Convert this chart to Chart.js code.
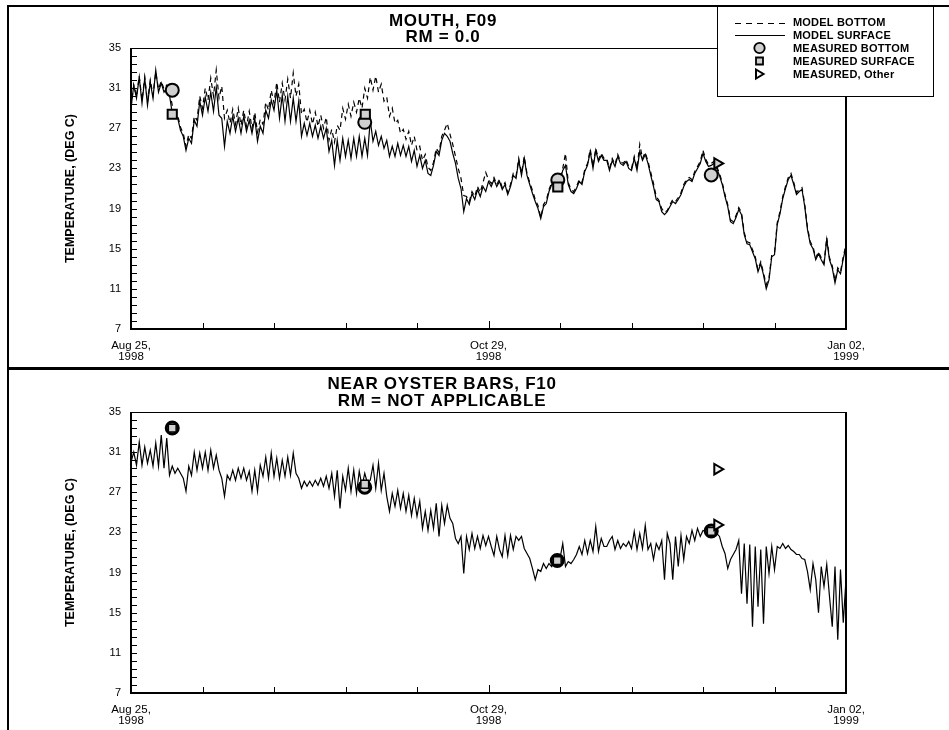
<!DOCTYPE html>
<html>
<head>
<meta charset="utf-8">
<script src="https://cdn.jsdelivr.net/npm/chart.js@4"></script>
<style>
html, body { margin: 0; padding: 0; background: #fff; }
body { width: 949px; height: 730px; position: relative; overflow: hidden; }
.rule { position: absolute; background: #000; }
canvas { position: absolute; left: 0; }
</style>
</head>
<body>
<div class="rule" style="left:7px;top:5px;width:942px;height:2px"></div>
<div class="rule" style="left:7px;top:5px;width:2px;height:725px"></div>
<div class="rule" style="left:7px;top:367px;width:942px;height:3px"></div>
<canvas id="c1" width="949" height="367" style="top:0px"></canvas>
<canvas id="c2" width="949" height="360" style="top:370px"></canvas>
<script>
// ---------------- DATA ----------------
// model series are sampled every half day starting Aug 25, 1998 (day 0)
const DAY_STEP = 0.5;

const xTickDays = [0, 65, 130];
const xTickLabels = [["Aug 25,", "1998"], ["Oct 29,", "1998"], ["Jan 02,", "1999"]];
const yTickLabels = [7, 11, 15, 19, 23, 27, 31, 35];

const yTitle = "TEMPERATURE, (DEG C)";
const topTitles = ["MOUTH, F09", "RM = 0.0"];
const bottomTitles = ["NEAR OYSTER BARS, F10", "RM = NOT APPLICABLE"];

const seriesNames = ["MODEL BOTTOM", "MODEL SURFACE", "MEASURED BOTTOM", "MEASURED SURFACE", "MEASURED, Other"];

// MOUTH, F09 - model bottom (dashed)
const topModelBottom = [
  29.1, 31.3, 30.2, 32.2, 29.8, 32.1, 29.6, 31.8, 30.3, 32.6,
  30.9, 31.7, 30.9, 31.3, 30.7, 29.3, 28.8, 28.3, 27.1, 26.5,
  25.2, 26.4, 26.0, 28.2, 27.8, 30.2, 29.0, 31.0, 29.8, 32.0,
  30.2, 32.8, 30.0, 31.2, 28.0, 28.8, 27.5, 28.9, 27.4, 29.0,
  27.3, 28.8, 27.2, 28.7, 27.0, 28.6, 26.6, 27.9, 27.4, 29.6,
  28.8, 30.8, 29.5, 31.6, 29.6, 31.5, 29.8, 31.9, 30.0, 32.5,
  30.2, 31.4, 28.4, 28.9, 27.6, 28.8, 27.4, 28.6, 27.2, 28.3,
  27.0, 28.1, 25.8, 26.9, 25.6, 27.3, 26.8, 29.0, 27.9, 29.4,
  28.2, 29.6, 28.6, 30.0, 29.0, 31.0, 30.0, 32.1, 30.8, 32.2,
  30.6, 31.4, 29.7, 30.1, 28.2, 29.0, 27.5, 27.8, 26.5, 26.9,
  25.9, 26.7, 25.3, 26.2, 24.8, 25.2, 23.8, 24.4, 23.1, 22.8,
  23.6, 25.0, 24.6, 26.2, 26.8, 27.5, 26.4, 25.4, 24.2, 23.0,
  22.0, 20.3, 20.2, 19.7, 20.7, 20.2, 21.2, 20.6, 21.6, 22.6,
  21.9, 21.5, 22.1, 21.4, 21.9, 21.1, 21.6, 20.6, 21.4, 22.5,
  22.2, 24.0, 22.5, 24.2, 22.5, 21.6, 20.8, 19.9, 19.3, 18.1,
  19.4, 19.8, 20.9, 21.6, 21.8, 21.9, 22.0, 23.0, 24.5, 21.6,
  20.9, 20.7, 21.2, 21.9, 21.6, 22.9, 23.5, 24.9, 23.2, 25.0,
  23.9, 24.5, 24.0, 24.0, 23.0, 24.0, 23.4, 24.4, 23.7, 23.5,
  23.9, 23.2, 23.0, 24.2, 23.0, 25.4, 24.0, 24.6, 23.7, 22.6,
  21.5, 20.2, 19.8, 19.0, 18.6, 18.8, 19.4, 19.9, 19.7, 20.1,
  20.6, 21.4, 21.9, 22.1, 21.9, 22.7, 23.2, 23.7, 24.8, 23.9,
  23.4, 23.5, 23.7, 23.2, 22.5, 21.6, 20.4, 19.4, 17.9, 17.7,
  18.3, 19.1, 18.6, 16.6, 15.7, 15.6, 14.9, 14.2, 12.9, 13.7,
  12.6, 11.4, 12.1, 14.4, 14.6, 17.6, 18.7, 20.2, 21.2, 22.1,
  22.5, 21.6, 20.6, 20.9, 21.1, 19.4, 17.1, 15.7, 15.2, 14.1,
  14.7, 14.1, 13.6, 16.1, 14.1, 13.3, 11.8, 13.1, 12.7, 14.2,
  15.4
];

// MOUTH, F09 - model surface (solid)
const topModelSurface = [
  29.0, 31.3, 30.0, 32.1, 29.5, 32.0, 29.3, 31.6, 30.0, 32.8,
  30.6, 31.5, 30.6, 31.0, 30.3, 28.5, 28.3, 28.0, 26.8, 26.2,
  24.8, 26.0, 25.5, 27.8, 27.2, 29.7, 28.3, 30.1, 28.7, 30.6,
  28.7, 31.1, 28.3, 28.0, 25.2, 27.7, 26.5, 28.2, 26.7, 28.0,
  26.5, 28.2, 26.7, 27.8, 26.5, 28.0, 25.7, 27.2, 26.5, 28.8,
  28.0, 29.8, 28.8, 30.8, 28.0, 30.3, 27.7, 30.2, 27.7, 30.0,
  27.7, 29.7, 26.2, 27.5, 26.3, 27.5, 26.2, 27.3, 26.0, 27.2,
  26.0, 27.0, 24.7, 25.8, 23.3, 25.8, 23.8, 26.0, 24.2, 25.8,
  24.0, 26.0, 24.2, 26.2, 24.2, 26.0, 24.3, 27.8, 25.7, 26.7,
  25.3, 26.2, 25.0, 25.8, 24.2, 25.2, 24.2, 25.5, 24.3, 25.3,
  24.2, 25.2, 23.7, 24.8, 23.2, 24.3, 23.0, 23.8, 22.5, 22.3,
  23.3, 24.7, 24.3, 25.8, 26.5, 26.2, 25.7, 24.5, 23.5, 22.0,
  21.0, 18.7, 20.0, 19.4, 20.5, 19.9, 20.9, 20.2, 21.2, 20.7,
  21.7, 21.2, 21.9, 21.2, 21.7, 20.9, 21.4, 20.4, 21.2, 22.3,
  22.0, 23.8, 22.3, 24.0, 22.3, 21.4, 20.5, 19.7, 19.0, 18.0,
  19.2, 19.5, 20.7, 21.4, 21.4, 21.5, 21.7, 22.8, 23.3, 21.4,
  20.7, 20.5, 21.0, 21.7, 21.4, 22.7, 23.3, 24.7, 23.0, 24.8,
  23.7, 24.3, 23.8, 23.8, 22.8, 23.8, 23.2, 24.2, 23.5, 23.3,
  23.7, 23.0, 22.8, 24.0, 22.8, 24.7, 23.8, 24.4, 23.5, 22.3,
  21.2, 19.9, 19.7, 18.7, 18.4, 18.7, 19.2, 19.7, 19.5, 19.9,
  20.4, 21.2, 21.7, 21.9, 21.7, 22.5, 23.0, 23.5, 24.5, 23.7,
  23.2, 23.3, 23.5, 23.0, 22.3, 21.4, 20.2, 19.2, 17.7, 17.5,
  18.1, 18.9, 18.4, 16.4, 15.5, 15.4, 14.7, 14.0, 12.7, 13.5,
  12.4, 11.0, 11.9, 14.2, 14.4, 17.4, 18.5, 20.0, 21.0, 21.9,
  22.3, 21.4, 20.4, 20.7, 20.9, 19.2, 16.9, 15.5, 15.0, 13.9,
  14.5, 13.9, 13.4, 15.9, 13.9, 13.1, 11.6, 12.9, 12.5, 14.0,
  15.2
];

// NEAR OYSTER BARS, F10 - model surface (solid)
const bottomModelSurface = [
  30.0, 31.0, 29.7, 32.0, 29.7, 31.5, 29.9, 31.2, 29.6, 31.9,
  29.6, 32.7, 29.4, 32.4, 28.7, 29.6, 28.9, 29.4, 28.9, 28.4,
  27.1, 29.6, 28.7, 31.0, 29.2, 30.9, 29.4, 31.0, 29.2, 31.2,
  29.4, 30.7, 29.2, 28.4, 26.6, 28.7, 28.2, 29.2, 28.2, 29.4,
  28.4, 29.4, 28.2, 29.1, 27.1, 29.2, 27.1, 29.7, 28.6, 30.5,
  28.4, 30.9, 28.6, 30.4, 28.4, 30.2, 28.6, 30.5, 28.7, 30.9,
  28.9, 28.4, 27.4, 28.1, 27.6, 28.1, 27.6, 28.2, 27.7, 28.4,
  27.6, 28.6, 27.4, 28.9, 26.6, 29.2, 25.4, 28.6, 27.2, 29.4,
  27.1, 29.2, 26.9, 29.1, 27.6, 28.9, 27.9, 28.2, 29.7, 27.4,
  29.9, 27.2, 28.9, 26.6, 25.1, 26.9, 25.6, 27.2, 25.4, 26.9,
  25.1, 26.7, 24.7, 26.4, 24.6, 26.1, 23.4, 25.1, 23.2, 25.2,
  23.4, 25.9, 22.6, 25.7, 23.9, 25.7, 24.4, 23.9, 22.4, 21.9,
  22.6, 18.9, 22.6, 21.3, 22.9, 21.4, 22.6, 21.4, 22.7, 21.7,
  22.6, 21.6, 20.7, 22.6, 21.3, 20.6, 22.7, 20.7, 22.7, 21.3,
  22.6, 22.2, 22.6, 21.4, 20.9, 20.4, 19.4, 18.3, 19.3, 19.1,
  19.9, 19.4, 19.9, 19.6, 20.3, 20.1, 20.4, 21.9, 19.6, 20.1,
  19.9, 20.3, 20.8, 21.6, 20.8, 22.2, 20.9, 22.2, 21.1, 23.6,
  21.1, 22.4, 21.6, 21.6, 22.2, 22.6, 21.3, 22.2, 21.4, 21.9,
  21.6, 22.1, 21.4, 23.1, 21.3, 22.9, 21.4, 23.7, 21.3, 21.9,
  20.3, 21.9, 21.3, 22.2, 18.3, 22.9, 21.9, 18.3, 22.6, 19.6,
  22.7, 20.3, 22.6, 21.9, 23.2, 22.2, 23.4, 22.6, 23.2, 23.1,
  23.4, 23.2, 23.1, 22.9, 22.6, 21.6, 20.9, 19.4, 20.3, 20.8,
  21.3, 22.2, 16.9, 21.9, 15.9, 21.8, 13.6, 21.6, 15.6, 21.3,
  13.9, 21.6, 18.9, 21.6, 19.3, 21.6, 21.4, 21.9, 21.4, 21.7,
  21.3, 21.1, 20.8, 20.8, 20.4, 20.3, 19.1, 17.3, 19.9, 18.3,
  15.0, 19.6, 17.6, 19.8, 16.6, 13.6, 19.6, 12.3, 19.3, 14.0,
  18.3
];

// measured values (day since Aug 25, 1998 / temperature)
const topMeasBottomDays = [7.5, 42.5, 77.6, 105.5];
const topMeasBottomVals = [30.8, 27.6, 21.85, 22.35];
const topMeasSurfaceDays = [7.5, 42.6, 77.6];
const topMeasSurfaceVals = [28.4, 28.4, 21.15];
const topMeasOtherDays = [106.6];
const topMeasOtherVals = [23.5];

const botMeasBottomDays = [7.5, 42.5, 77.5, 105.5];
const botMeasBottomVals = [33.4, 27.5, 20.2, 23.15];
const botMeasSurfaceDays = [7.5, 42.5, 77.5, 105.5];
const botMeasSurfaceVals = [33.4, 27.8, 20.2, 23.1];
const botMeasOtherDays = [106.6, 106.6];
const botMeasOtherVals = [29.3, 23.75];

// ---------------- HELPERS ----------------
const FONT = '"Liberation Sans", Arial, Helvetica, sans-serif';
const MARK_FILL = '#d0d0d0';
Chart.defaults.font.family = FONT;
Chart.defaults.color = '#000';

function toPoints(values) { return values.map((v, i) => ({ x: i * DAY_STEP, y: v })); }
function pairs(days, vals) { return days.map((d, i) => ({ x: d, y: vals[i] })); }

function lineDs(label, values, dashed, order) {
  return {
    label, data: toPoints(values), borderColor: '#000', borderWidth: 1.2,
    borderDash: dashed ? [5, 4] : [], pointRadius: 0, tension: 0, fill: false, order
  };
}
function markDs(label, pts, style, opts) {
  return Object.assign({
    label, data: pts, showLine: false, pointStyle: style,
    pointRadius: 6, pointBorderWidth: 2, pointBorderColor: '#000',
    pointBackgroundColor: MARK_FILL, backgroundColor: MARK_FILL, borderColor: '#000',
    pointRotation: 0, clip: false
  }, opts);
}

const decor = {
  id: 'decor',
  afterDatasetsDraw(chart, args, o) {
    const ctx = chart.ctx, a = chart.chartArea;
    const xs = chart.scales.x, ys = chart.scales.y;
    ctx.save();
    ctx.fillStyle = '#000';
    // plot frame
    ctx.fillRect(a.left - 1, a.top, a.right - a.left + 1, 1);
    ctx.fillRect(a.left - 1, a.top, 2, a.bottom - a.top + 1);
    ctx.fillRect(a.left - 1, a.bottom - 1, a.right - a.left + 2, 2);
    ctx.fillRect(a.right - 1, a.top, 2, a.bottom - a.top + 1);
    // y tick marks (inside)
    ys.ticks.forEach(t => {
      const y = Math.round(ys.getPixelForValue(t.value));
      ctx.fillRect(a.left + 1, y, 5, 1);
    });
    // x tick marks (inside)
    xs.ticks.forEach(t => {
      const x = Math.round(xs.getPixelForValue(t.value));
      const major = Array.isArray(t.label) ? t.label.length > 0 : (t.label !== '' && t.label != null);
      const len = major ? 8 : 6;
      ctx.fillRect(x, a.bottom - len, 1, len);
    });
    // titles
    ctx.font = 'bold 17px ' + FONT;
    if ('letterSpacing' in ctx) ctx.letterSpacing = '0.7px';
    ctx.textAlign = 'center';
    ctx.textBaseline = 'middle';
    o.titles.forEach((t, i) => ctx.fillText(t, o.titleX, o.titleY[i]));
    if ('letterSpacing' in ctx) ctx.letterSpacing = '0px';
    // legend
    if (o.legend) {
      const L = o.legendBox;
      ctx.fillStyle = '#fff';
      ctx.fillRect(L.x + 1, L.y + 2, L.w - 1, L.h - 2);
      ctx.strokeStyle = '#000';
      ctx.lineWidth = 1;
      ctx.strokeRect(L.x + 0.5, L.y + 0.5, L.w, L.h);
      const rows = [22.5, 35, 48, 61, 74];
      const sx = 759.5;
      chart.data.datasets.forEach((d, i) => {
        const y = rows[i];
        ctx.fillStyle = '#000';
        ctx.strokeStyle = '#000';
        if (d.showLine !== false) {
          ctx.lineWidth = 1;
          ctx.setLineDash(d.borderDash && d.borderDash.length ? [6, 5] : []);
          ctx.beginPath();
          ctx.moveTo(735, Math.round(y) + 0.5);
          ctx.lineTo(785, Math.round(y) + 0.5);
          ctx.stroke();
          ctx.setLineDash([]);
        } else if (d.pointStyle === 'circle') {
          ctx.lineWidth = 1.8;
          ctx.fillStyle = MARK_FILL;
          ctx.beginPath(); ctx.arc(sx, y, 5.2, 0, Math.PI * 2); ctx.fill(); ctx.stroke();
        } else if (d.pointStyle === 'rect') {
          ctx.lineWidth = 1.8;
          ctx.fillStyle = MARK_FILL;
          ctx.beginPath(); ctx.rect(sx - 3.5, y - 3.5, 7, 7); ctx.fill(); ctx.stroke();
        } else {
          ctx.lineWidth = 2;
          ctx.fillStyle = '#fff';
          ctx.beginPath();
          ctx.moveTo(sx - 3.5, y - 4.5); ctx.lineTo(sx + 4, y); ctx.lineTo(sx - 3.5, y + 4.5);
          ctx.closePath(); ctx.fill(); ctx.stroke();
        }
        ctx.fillStyle = '#000';
        ctx.font = 'bold 11px ' + FONT;
        if ('letterSpacing' in ctx) ctx.letterSpacing = '0.2px';
        ctx.textAlign = 'left';
        ctx.textBaseline = 'middle';
        ctx.fillText(d.label, 793, y + 0.5);
        if ('letterSpacing' in ctx) ctx.letterSpacing = '0px';
      });
    }
    ctx.restore();
  }
};

function makeChart(id, datasets, cfg) {
  const canvas = document.getElementById(id);
  const H = canvas.height;
  return new Chart(canvas, {
    type: 'line',
    data: { datasets },
    plugins: [decor],
    options: {
      responsive: false, animation: false, devicePixelRatio: 1, events: [],
      layout: { padding: { left: 0, top: cfg.plotTop, right: 949 - cfg.plotRight, bottom: 0 } },
      scales: {
        x: {
          type: 'linear', min: 0, max: 130,
          grid: { display: false, drawTicks: false },
          border: { display: false },
          afterFit(s) { s.height = H - cfg.plotBottom; },
          ticks: {
            stepSize: 13, autoSkip: false, maxRotation: 0, minRotation: 0, padding: 11,
            font: { size: 11.5, lineHeight: 0.95 }, color: '#000',
            callback(v) { const k = xTickDays.indexOf(Math.round(v)); return k >= 0 ? xTickLabels[k] : ''; }
          }
        },
        y: {
          type: 'linear', min: 7, max: 35,
          grid: { display: false, drawTicks: false },
          border: { display: false },
          afterFit(s) { s.width = cfg.plotLeft; },
          title: {
            display: true, text: yTitle, color: '#000',
            font: { size: 12.5, weight: 'bold' }, padding: { top: 63.5, bottom: 0 }
          },
          ticks: {
            stepSize: 0.8, autoSkip: false, padding: 10,
            font: { size: 11 }, color: '#000',
            callback(v) {
              const r = Math.round(v);
              return (Math.abs(v - r) < 1e-6 && yTickLabels.includes(r)) ? String(r) : '';
            }
          }
        }
      },
      plugins: {
        legend: { display: false }, tooltip: { enabled: false },
        decor: cfg.decor
      }
    }
  });
}

// ---------------- CHARTS ----------------
makeChart('c1', [
  lineDs(seriesNames[0], topModelBottom, true, 5),
  lineDs(seriesNames[1], topModelSurface, false, 4),
  markDs(seriesNames[2], pairs(topMeasBottomDays, topMeasBottomVals), 'circle', { order: 3, pointRadius: 6.5 }),
  markDs(seriesNames[3], pairs(topMeasSurfaceDays, topMeasSurfaceVals), 'rect', { order: 2, pointRadius: 6.5 }),
  markDs(seriesNames[4], pairs(topMeasOtherDays, topMeasOtherVals), 'triangle', { order: 1, pointRadius: 6, pointRotation: 90 })
], {
  plotLeft: 131, plotRight: 846, plotTop: 48, plotBottom: 329,
  decor: { titles: topTitles, titleX: 443, titleY: [21, 37.5], legend: true,
           legendBox: { x: 717, y: 5, w: 216, h: 91 } }
});

makeChart('c2', [
  lineDs(seriesNames[1], bottomModelSurface, false, 4),
  markDs(seriesNames[2], pairs(botMeasBottomDays, botMeasBottomVals), 'circle', { order: 3, pointRadius: 6, pointBorderWidth: 3 }),
  markDs(seriesNames[3], pairs(botMeasSurfaceDays, botMeasSurfaceVals), 'rect', { order: 2, pointRadius: 5.5, pointBorderWidth: 1.5 }),
  markDs(seriesNames[4], pairs(botMeasOtherDays, botMeasOtherVals), 'triangle', { order: 1, pointRadius: 6, pointRotation: 90, pointBackgroundColor: '#f4f4f4', backgroundColor: '#f4f4f4' })
], {
  plotLeft: 131, plotRight: 846, plotTop: 42, plotBottom: 323,
  decor: { titles: bottomTitles, titleX: 442, titleY: [14, 31.5], legend: false }
});
</script>
</body>
</html>
